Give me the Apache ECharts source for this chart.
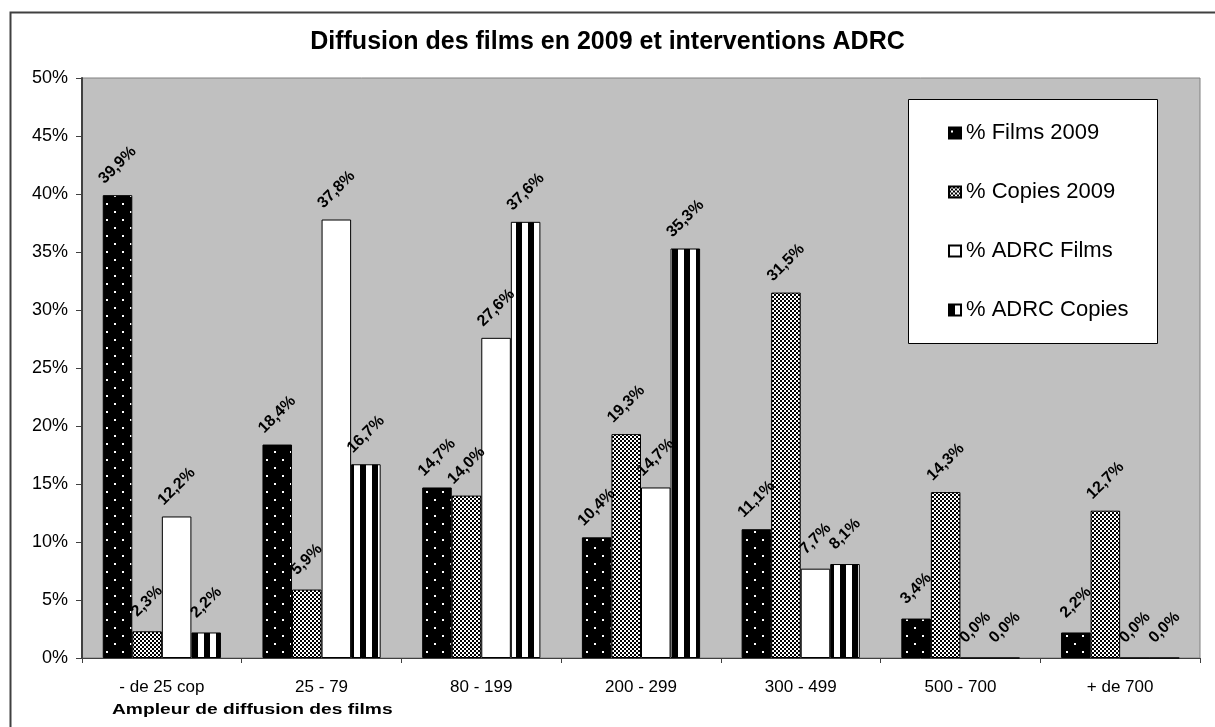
<!DOCTYPE html>
<html>
<head>
<meta charset="utf-8">
<style>
  html, body { margin: 0; padding: 0; background: #fff; }
  #chart { width: 1215px; height: 727px; }
</style>
<script src="https://cdn.jsdelivr.net/npm/echarts@6/dist/echarts.min.js"></script>
</head>
<body>
<div id="chart"></div>
<script>
const categories = ['- de 25 cop', '25 - 79', '80 - 199', '200 - 299', '300 - 499', '500 - 700', '+ de 700']
const seriesNames = ['% Films 2009', '% Copies 2009', '% ADRC Films', '% ADRC Copies']
const films2009 = [39.9, 18.4, 14.7, 10.4, 11.1, 3.4, 2.2]
const copies2009 = [2.3, 5.9, 14.0, 19.3, 31.5, 14.3, 12.7]
const adrcFilms = [12.2, 37.8, 27.6, 14.7, 7.7, 0.0, 0.0]
const adrcCopies = [2.2, 16.7, 37.6, 35.3, 8.1, 0.0, 0.0]

const FONT = 'Liberation Sans, Arial, sans-serif'

// Build small canvas tiles used as bar fills
const makeTile = (w, h, draw) => {
  const c = document.createElement('canvas')
  c.width = w
  c.height = h
  const ctx = c.getContext('2d')
  draw(ctx)
  return c
}

// black with staggered white dots
const dotTile = makeTile(16, 16, ctx => {
  ctx.fillStyle = '#000'
  ctx.fillRect(0, 0, 16, 16)
  ctx.fillStyle = '#fff'
  ctx.fillRect(2, 3, 2, 2)
  ctx.fillRect(10, 11, 2, 2)
})

// fine checkerboard
const checkTile = makeTile(4, 4, ctx => {
  ctx.fillStyle = '#fff'
  ctx.fillRect(0, 0, 4, 4)
  ctx.fillStyle = '#000'
  ctx.fillRect(0, 0, 2, 2)
  ctx.fillRect(2, 2, 2, 2)
})

// vertical stripes
const stripeTile = makeTile(12, 4, ctx => {
  ctx.fillStyle = '#fff'
  ctx.fillRect(0, 0, 12, 4)
  ctx.fillStyle = '#000'
  ctx.fillRect(0, 0, 6, 4)
})

const fills = [
  { image: dotTile, repeat: 'repeat' },
  { image: checkTile, repeat: 'repeat' },
  '#ffffff',
  { image: stripeTile, repeat: 'repeat' }
]

const fmt = v => v.toFixed(1).replace('.', ',') + '%'

const makeSeries = (name, data, fill) => ({
  name: name,
  type: 'bar',
  data: data,
  barGap: '0%',
  barCategoryGap: '26%',
  itemStyle: {
    color: fill,
    borderColor: '#000',
    borderWidth: 1
  },
  label: {
    show: true,
    position: 'top',
    rotate: 45,
    align: 'center',
    verticalAlign: 'middle',
    distance: 30,
    formatter: p => fmt(p.value),
    color: '#000',
    fontFamily: FONT,
    fontWeight: 'bold',
    fontSize: 16
  },
  emphasis: { disabled: true }
})

const chart = echarts.init(document.getElementById('chart'))

const option = {
  backgroundColor: '#ffffff',
  animation: false,
  textStyle: { fontFamily: FONT },
  title: {
    text: 'Diffusion des films en 2009 et interventions ADRC',
    left: 'center',
    top: 25,
    textStyle: {
      color: '#000',
      fontSize: 25,
      fontWeight: 'bold',
      fontFamily: FONT
    }
  },
  grid: {
    left: 82,
    right: 15,
    top: 78,
    bottom: 69,
    show: true,
    backgroundColor: '#c0c0c0',
    borderColor: '#808080',
    borderWidth: 1
  },
  legend: {
    orient: 'vertical',
    left: 943,
    top: 117,
    itemWidth: 12,
    itemHeight: 11,
    itemGap: 37,
    icon: 'rect',
    selectedMode: false,
    textStyle: {
      color: '#000',
      fontSize: 22,
      fontFamily: FONT
    },
    data: seriesNames
  },
  xAxis: {
    type: 'category',
    data: categories,
    axisLine: { lineStyle: { color: '#404040', width: 1 } },
    axisTick: { show: true, length: 5, lineStyle: { color: '#404040' } },
    axisLabel: {
      color: '#000',
      fontSize: 17,
      margin: 21
    }
  },
  yAxis: {
    type: 'value',
    min: 0,
    max: 50,
    interval: 5,
    axisLine: { show: true, lineStyle: { color: '#404040', width: 2 } },
    axisTick: { show: true, length: 6, lineStyle: { color: '#404040' } },
    splitLine: { show: false },
    axisLabel: {
      color: '#000',
      fontSize: 18,
      margin: 14,
      formatter: '{value}%'
    }
  },
  graphic: [
    {
      type: 'rect',
      z: -10,
      shape: { x: 10.5, y: 12.5, width: 1240, height: 740 },
      style: { fill: 'none', stroke: '#404040', lineWidth: 2 }
    },
    {
      type: 'rect',
      z: 0,
      shape: { x: 908.5, y: 99.5, width: 249, height: 244 },
      style: { fill: '#fff', stroke: '#000', lineWidth: 1 }
    },
    {
      type: 'text',
      x: 112,
      y: 702,
      scaleX: 1.28,
      style: {
        text: 'Ampleur de diffusion des films',
        fill: '#000',
        font: 'bold 15px "Liberation Sans", Arial, sans-serif'
      }
    }
  ],
  series: [
    makeSeries(seriesNames[0], films2009, fills[0]),
    makeSeries(seriesNames[1], copies2009, fills[1]),
    makeSeries(seriesNames[2], adrcFilms, fills[2]),
    makeSeries(seriesNames[3], adrcCopies, fills[3])
  ]
}

chart.setOption(option)
</script>
</body>
</html>
